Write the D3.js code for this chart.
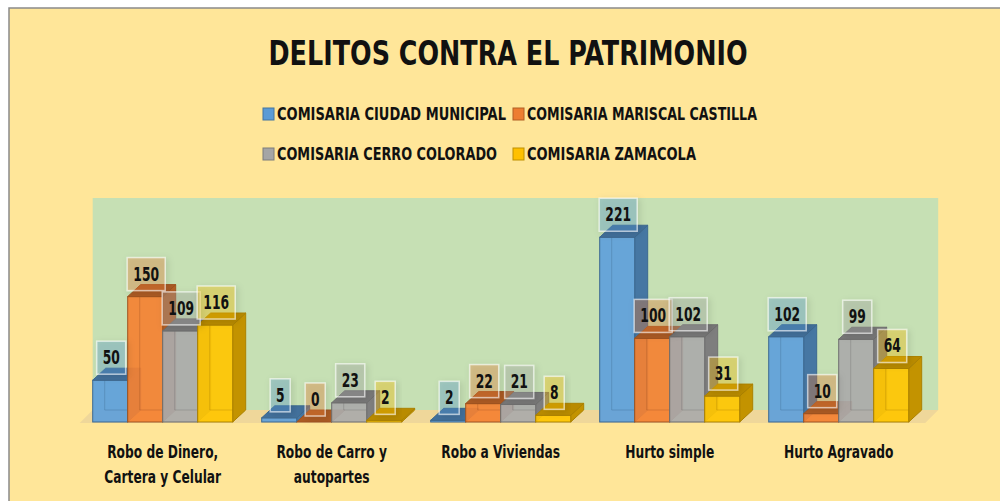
<!DOCTYPE html>
<html>
<head>
<meta charset="utf-8">
<script src="https://cdn.jsdelivr.net/npm/d3@7"></script>
<style>
  html, body { margin: 0; padding: 0; background: #fff; }
  svg { display: block; }
  text { font-family: "Liberation Sans Narrow", "DejaVu Sans Condensed", "Liberation Sans", sans-serif; fill: #111; }
</style>
</head>
<body>
<svg id="chart" width="1000" height="501"></svg>
<script>
const title = 'DELITOS CONTRA EL PATRIMONIO';
const categories = ['Robo de Dinero, Cartera y Celular', 'Robo de Carro y autopartes', 'Robo a Viviendas', 'Hurto simple', 'Hurto Agravado'];
const categoryLines = [['Robo de Dinero,', 'Cartera y Celular'], ['Robo de Carro y', 'autopartes'], ['Robo a Viviendas'], ['Hurto simple'], ['Hurto Agravado']];
const seriesNames = ['COMISARIA CIUDAD MUNICIPAL', 'COMISARIA MARISCAL CASTILLA', 'COMISARIA CERRO COLORADO', 'COMISARIA ZAMACOLA'];
const seriesColors = ['#5B9BD5', '#ED7D31', '#A5A5A5', '#FFC000'];
const ciudadMunicipal = [50, 5, 2, 221, 102];
const mariscalCastilla = [150, 0, 22, 100, 10];
const cerroColorado = [109, 23, 21, 102, 99];
const zamacola = [116, 2, 8, 31, 64];
const seriesValues = [ciudadMunicipal, mariscalCastilla, cerroColorado, zamacola];

const svg = d3.select('#chart');
const depthX = 13, depthY = 12;
const baseY = 422;

// squeeze a text horizontally so it looks like a narrow font
function narrow(sel, k) {
  sel.each(function () {
    const w = this.getComputedTextLength();
    d3.select(this).attr('textLength', w * k).attr('lengthAdjust', 'spacingAndGlyphs');
  });
}

// outer chart area
svg.append('rect').attr('x', 9).attr('y', 8).attr('width', 1000).attr('height', 500)
  .attr('fill', '#FFE699').attr('stroke', '#8a8a8a').attr('stroke-width', 1.5);

// drop shadow for the label boxes
const defs = svg.append('defs');
defs.append('filter').attr('id', 'shadow').attr('x', '-30%').attr('y', '-30%').attr('width', '160%').attr('height', '160%')
  .append('feDropShadow').attr('dx', 2).attr('dy', 2).attr('stdDeviation', 3)
  .attr('flood-color', '#000').attr('flood-opacity', 0.25);

// title
svg.append('text').attr('x', 508).attr('y', 65).attr('text-anchor', 'middle')
  .attr('font-size', 34).attr('font-weight', 'bold')
  .attr('textLength', 479).attr('lengthAdjust', 'spacingAndGlyphs')
  .text(title);

// legend
const legendPos = [[263, 120, 229], [513, 120, 230], [263, 160, 220], [513, 160, 169]];
seriesNames.forEach((name, i) => {
  const [lx, ly, tw] = legendPos[i];
  const c = d3.color(seriesColors[i]);
  svg.append('rect').attr('x', lx).attr('y', ly - 12).attr('width', 11).attr('height', 12)
    .attr('fill', seriesColors[i]).attr('stroke', c.darker(0.8)).attr('stroke-width', 1);
  svg.append('text').attr('x', lx + 14).attr('y', ly).attr('font-size', 15).attr('font-weight', 'bold')
    .attr('transform', `translate(${lx + 14},${ly}) scale(1,1.15) translate(${-(lx + 14)},${-ly})`)
    .attr('textLength', tw).attr('lengthAdjust', 'spacingAndGlyphs').text(name);
});

// scales
const x = d3.scaleBand().domain(categories).range([92.7, 908.7]).paddingInner(29 / 169).paddingOuter(0);
const xs = d3.scaleBand().domain(seriesNames).range([0, x.bandwidth()]);
const y = d3.scaleLinear().domain([0, 250]).range([baseY, baseY - 209]);

// back wall and floor
const wallLeft = x.range()[0], wallRight = x.range()[1] + 29.5;
svg.append('rect').attr('x', wallLeft).attr('y', 198).attr('width', wallRight - wallLeft).attr('height', baseY - depthY - 198)
  .attr('fill', '#C6E0B4');
svg.append('path')
  .attr('d', `M${wallLeft - depthX},${baseY + 1}L${wallRight - depthX},${baseY + 1}L${wallRight},${baseY - depthY}L${wallLeft},${baseY - depthY}Z`)
  .attr('fill', '#EFD79A');

// bars
const bars = svg.append('g');
categories.forEach((cat, ci) => {
  seriesNames.forEach((s, si) => {
    const v = seriesValues[si][ci];
    const x0 = x(cat) + xs(s), w = xs.bandwidth();
    const y0 = y(v);
    const c = d3.color(seriesColors[si]);
    const edge = c.darker(1.1);
    const g = bars.append('g').attr('class', 'bar');
    // side face
    g.append('path')
      .attr('d', `M${x0 + w},${baseY}L${x0 + w + depthX},${baseY - depthY}L${x0 + w + depthX},${y0 - depthY}L${x0 + w},${y0}Z`)
      .attr('fill', c.darker(0.75)).attr('stroke', edge).attr('stroke-width', 1);
    // front face
    g.append('rect').attr('x', x0).attr('y', y0).attr('width', w).attr('height', baseY - y0)
      .attr('fill', c.brighter(0.08)).attr('fill-opacity', 0.92).attr('stroke', edge).attr('stroke-width', 1);
    // hidden back edges seen through
    if (baseY - y0 > depthY) {
      g.append('path')
        .attr('d', `M${x0 + depthX - 1},${y0}L${x0 + depthX - 1},${baseY - depthY}L${x0 + w},${baseY - depthY}`)
        .attr('fill', 'none').attr('stroke', edge).attr('stroke-opacity', 0.35).attr('stroke-width', 1);
    }
    // top face
    g.append('path')
      .attr('d', `M${x0},${y0}L${x0 + depthX},${y0 - depthY}L${x0 + w + depthX},${y0 - depthY}L${x0 + w},${y0}Z`)
      .attr('fill', c.darker(0.9)).attr('stroke', edge).attr('stroke-width', 1);
  });
});

// data labels
const labels = svg.append('g');
categories.forEach((cat, ci) => {
  seriesNames.forEach((s, si) => {
    const v = seriesValues[si][ci];
    const cx = x(cat) + xs(s) + xs.bandwidth() / 2 + 1;
    const bw = 11 + 9 * String(v).length, bh = 33;
    const by = y(v) - 6 - bh;
    labels.append('rect').attr('x', cx - bw / 2).attr('y', by).attr('width', bw).attr('height', bh)
      .attr('fill', seriesColors[si]).attr('fill-opacity', 0.32)
      .attr('stroke', '#ffffff').attr('stroke-opacity', 0.6).attr('stroke-width', 1.5)
      .attr('filter', 'url(#shadow)');
    labels.append('text').attr('x', cx).attr('y', by + bh / 2 + 6.5).attr('text-anchor', 'middle')
      .attr('font-size', 19).attr('font-weight', 'bold').text(v)
      .call(narrow, 0.72);
  });
});

// category labels
categories.forEach((cat, ci) => {
  const cx = x(cat) + x.bandwidth() / 2;
  categoryLines[ci].forEach((line, li) => {
    svg.append('text').attr('x', cx).attr('y', 458 + li * 25).attr('text-anchor', 'middle')
      .attr('font-size', 17).attr('font-weight', 'bold').text(line)
      .call(narrow, 0.8);
  });
});
</script>
</body>
</html>
